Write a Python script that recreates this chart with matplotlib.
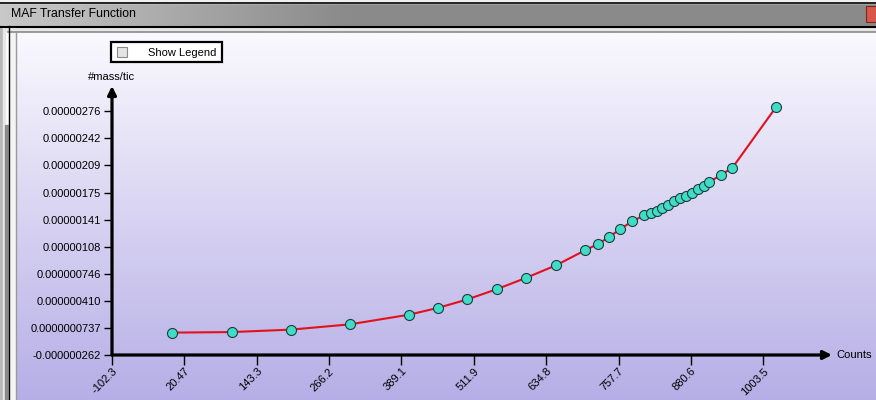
import numpy as np
import matplotlib
matplotlib.use("Agg")
import matplotlib.pyplot as plt
from matplotlib.patches import Rectangle

plt.rcParams['font.family'] = ['Liberation Sans', 'DejaVu Sans']

# ---- data ----
counts = [0, 101, 201, 301, 402, 452, 501, 551, 601, 652, 701, 722, 742, 761, 781,
          801, 812, 823, 832, 842, 852, 862, 872, 882, 892, 902, 912, 931, 951, 1025]
mass_per_tic = [0.15e-7, 0.22e-7, 0.52e-7, 1.17e-7, 2.37e-7, 3.23e-7, 4.26e-7, 5.53e-7,
                6.94e-7, 8.50e-7, 10.35e-7, 11.09e-7, 12.00e-7, 12.99e-7, 13.93e-7,
                14.67e-7, 14.97e-7, 15.25e-7, 15.62e-7, 15.99e-7, 16.45e-7, 16.86e-7,
                17.02e-7, 17.47e-7, 17.93e-7, 18.34e-7, 18.80e-7, 19.66e-7, 20.56e-7,
                28.06e-7]
xtick_labels = ["-102.3", "20.47", "143.3", "266.2", "389.1", "511.9", "634.8",
                "757.7", "880.6", "1003.5"]
ytick_labels = ["-0.000000262", "0.0000000737", "0.000000410", "0.000000746",
                "0.00000108", "0.00000141", "0.00000175", "0.00000209",
                "0.00000242", "0.00000276"]
title_text = "MAF Transfer Function"
x_label = "Counts"
y_label = "#mass/tic"
legend_text = "Show Legend"

W, H = 876, 400
FS = 8.0
fig = plt.figure(figsize=(W / 100, H / 100), dpi=100)

# ---- window chrome (pixel coordinates) ----
bg = fig.add_axes([0, 0, 1, 1])
bg.set_xlim(0, W)
bg.set_ylim(H, 0)
bg.axis('off')

# panel vertical gradient
top_c = np.array([250, 249, 254]) / 255
bot_c = np.array([182, 174, 230]) / 255
t = np.linspace(0, 1, 256)[:, None]
grad = (top_c[None, None, :] * (1 - t[..., None]) + bot_c[None, None, :] * t[..., None])
grad = np.repeat(grad, 2, axis=1)
bg.imshow(grad, extent=[16, W, H, 33], aspect='auto', zorder=0, interpolation='bilinear')

# title bar gradient
tx = np.linspace(0, 1, 256)[None, :]
tb_left = np.array([200, 200, 200]) / 255
tb_right = np.array([138, 138, 138]) / 255
mix = np.clip(tx * 2.5, 0, 1)[..., None]
tgrad = tb_left[None, None, :] * (1 - mix) + tb_right[None, None, :] * mix
tgrad = np.repeat(tgrad, 2, axis=0)
bg.imshow(tgrad, extent=[0, W, 26, 3], aspect='auto', zorder=0, interpolation='bilinear')
bg.add_patch(Rectangle((0, 0), W, 3, color='#f0f0f0', zorder=1))
bg.plot([0, W], [2.5, 2.5], color='black', lw=1.2, zorder=2)
bg.plot([0, W], [26.5, 26.5], color='black', lw=1.5, zorder=2)
bg.add_patch(Rectangle((0, 27), W, 4, color='#e6e6e6', zorder=1))
bg.plot([8, W], [31.5, 31.5], color='#8a8a8a', lw=1.2, zorder=2)
# left border
bg.add_patch(Rectangle((0, 26), 3, H - 26, color='#b8b8b8', zorder=1))
bg.add_patch(Rectangle((3, 26), 2, H - 26, color='#e8e8e8', zorder=1))
bg.add_patch(Rectangle((5, 125), 3, H - 125, color='#8a8a8a', zorder=1))
bg.plot([8.5, 8.5], [26, H], color='black', lw=1.0, zorder=2)
bg.add_patch(Rectangle((9, 31), 6, H - 31, color='#f4f4f4', zorder=1))
bg.plot([15.5, 15.5], [32, H], color='#9a9a9a', lw=1.0, zorder=2)
# close button
bg.add_patch(Rectangle((866, 6), 12, 16, facecolor='#d9574a', edgecolor='#7a2a22', lw=0.8, zorder=2))
bg.text(11, 14, title_text, fontsize=8.8, color='black', ha='left', va='center', zorder=3)

# Show Legend box
bg.add_patch(Rectangle((111, 42), 111, 20, facecolor='white', edgecolor='black', lw=1.6, zorder=3))
bg.add_patch(Rectangle((117, 47), 10, 10, facecolor='#e4e4e4', edgecolor='#8a8a8a', lw=0.8, zorder=4))
bg.text(148, 52.5, legend_text, fontsize=FS, ha='left', va='center', zorder=4)

# axis titles
bg.text(112, 77, y_label, fontsize=FS, ha='center', va='center', zorder=4)
bg.text(836, 355, x_label, fontsize=FS, ha='left', va='center', zorder=4)

# ---- data axes ----
x_px0, x_px1 = 112, 832
y_px0, y_px1 = 355, 86
ax = fig.add_axes([x_px0 / W, (H - y_px0) / H, (x_px1 - x_px0) / W, (y_px0 - y_px1) / H])
ax.patch.set_alpha(0)
xt = [float(s) for s in xtick_labels]
yt = [float(s) for s in ytick_labels]
px_per_x = (763.3 - 112) / (xt[-1] - xt[0])
ax.set_xlim(xt[0], xt[0] + (x_px1 - x_px0) / px_per_x)
px_per_y = (355.7 - 111) / (yt[-1] - yt[0])
ax.set_ylim(yt[0], yt[0] + (355.7 - y_px1) / px_per_y)

for s in ax.spines.values():
    s.set_visible(False)

ax.set_xticks(xt)
ax.set_xticklabels(xtick_labels, rotation=45, ha='right', va='top', rotation_mode='anchor', fontsize=FS)
ax.set_yticks(yt)
ax.set_yticklabels(ytick_labels, fontsize=FS)
ax.tick_params(axis='x', length=7, width=1.0, pad=1, colors='black')
ax.tick_params(axis='y', length=6, width=1.0, pad=2, colors='black')

# axes lines with arrows
arrow_kw = dict(arrowstyle='-|>,head_length=0.5,head_width=0.25', color='black', lw=2.3,
                shrinkA=0, shrinkB=0, mutation_scale=10)
ax.annotate('', xy=(1, 0), xytext=(0, 0), xycoords='axes fraction', arrowprops=arrow_kw,
            annotation_clip=False)
ax.annotate('', xy=(0, 1), xytext=(0, 0), xycoords='axes fraction', arrowprops=arrow_kw,
            annotation_clip=False)

ax.plot(counts, mass_per_tic, color='#e4101c', lw=1.5, zorder=3, clip_on=False)
ax.plot(counts, mass_per_tic, linestyle='none', marker='o', markersize=7.2,
        markerfacecolor='#3fdcc8', markeredgecolor='#1f3b3b', markeredgewidth=0.8,
        zorder=4, clip_on=False)

fig.savefig('out.png', dpi=100)
